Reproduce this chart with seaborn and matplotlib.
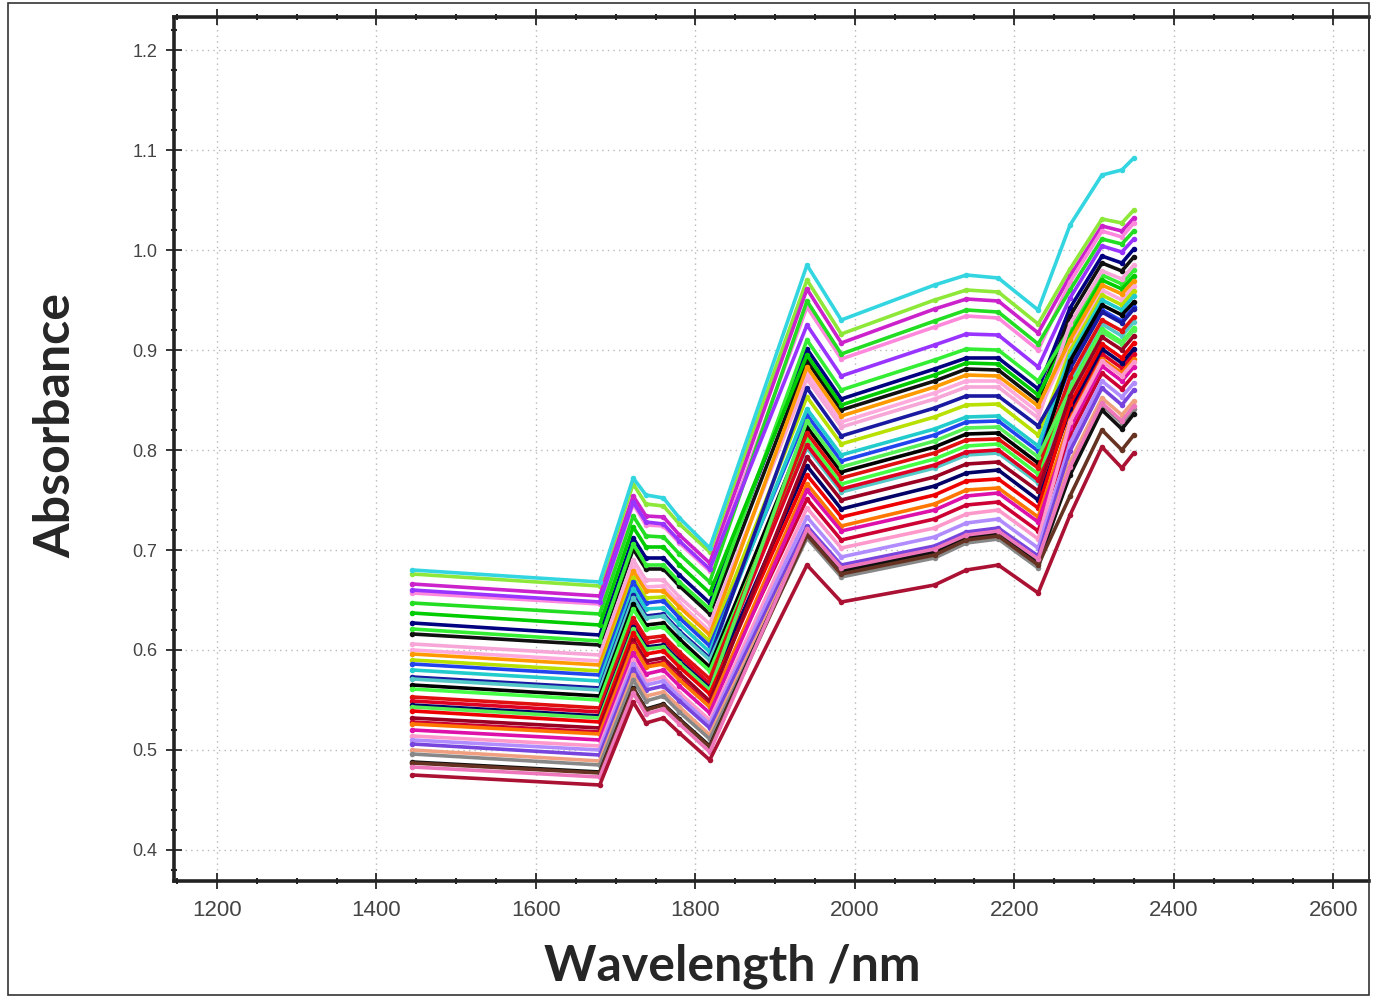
import numpy as np
import pandas as pd
import seaborn as sns
import matplotlib.pyplot as plt
from matplotlib.ticker import MultipleLocator, FormatStrFormatter
from matplotlib.patches import Rectangle

# wavelengths (nm) where every spectrum has a point
wavelength = [1445, 1680, 1722, 1738, 1760, 1780, 1818, 1940, 1983, 2100, 2140, 2180, 2230, 2270, 2310, 2335, 2350]

# absorbance spectra (top of the band first)
s_cyan    = [.680, .668, .772, .755, .752, .732, .702, .985, .930, .965, .975, .972, .940, 1.025, 1.075, 1.080, 1.092]
s_lime    = [.676, .664, .766, .746, .744, .726, .698, .970, .916, .950, .960, .958, .926, .981, 1.031, 1.027, 1.040]
s_magenta = [.666, .654, .754, .734, .733, .715, .687, .961, .907, .941, .951, .949, .917, .974, 1.024, 1.019, 1.032]
s_pink    = [.657, .646, .746, .725, .724, .707, .679, .943, .891, .923, .934, .932, .900, .968, 1.019, 1.013, 1.027]
s_green   = [.647, .636, .734, .714, .713, .696, .668, .949, .896, .929, .940, .938, .906, .960, 1.011, 1.006, 1.019]
s_violet  = [.660, .648, .748, .728, .726, .709, .681, .925, .874, .905, .916, .915, .883, .952, 1.004, .998, 1.011]
s_navy    = [.627, .615, .712, .692, .692, .675, .647, .901, .851, .881, .892, .892, .861, .942, .994, .987, 1.001]
s_black   = [.616, .605, .701, .681, .681, .664, .636, .889, .840, .869, .881, .880, .849, .934, .987, .979, .993]
s_green2  = [.621, .609, .706, .685, .685, .668, .641, .910, .860, .890, .901, .900, .869, .921, .975, .966, .980]
s_green3  = [.637, .625, .723, .703, .703, .685, .657, .895, .845, .875, .887, .886, .855, .915, .970, .961, .974]
s_pink2   = [.606, .595, .690, .670, .670, .653, .626, .871, .823, .851, .863, .863, .832, .926, .979, .971, .985]
s_pinkl   = [.600, .589, .683, .663, .664, .647, .619, .877, .828, .857, .869, .869, .838, .905, .960, .950, .964]
s_orange  = [.596, .585, .679, .659, .659, .643, .615, .883, .834, .863, .875, .874, .844, .910, .965, .956, .969]
s_ygreen  = [.590, .579, .672, .652, .653, .636, .609, .853, .806, .833, .845, .846, .815, .899, .955, .945, .959]
s_blue    = [.586, .575, .668, .647, .649, .632, .604, .835, .789, .815, .828, .829, .799, .883, .940, .929, .943]
s_cyan2   = [.580, .569, .661, .641, .642, .626, .598, .841, .795, .821, .833, .834, .804, .894, .950, .940, .954]
s_navy2   = [.573, .562, .655, .634, .636, .619, .592, .862, .814, .842, .854, .854, .824, .881, .938, .927, .941]
s_teal    = [.571, .560, .652, .632, .634, .617, .590, .802, .758, .782, .795, .797, .767, .868, .926, .914, .928]
s_black2  = [.565, .554, .646, .625, .627, .611, .583, .823, .778, .803, .816, .817, .787, .889, .945, .935, .948]
s_lime2   = [.561, .550, .641, .621, .623, .606, .579, .811, .766, .791, .804, .806, .776, .862, .921, .908, .922]
s_red     = [.553, .542, .632, .612, .614, .598, .571, .817, .772, .797, .810, .811, .782, .873, .930, .919, .933]
s_red3    = [.549, .538, .628, .607, .610, .594, .566, .805, .761, .785, .798, .800, .770, .836, .896, .882, .896]
s_navy3   = [.545, .534, .623, .603, .605, .589, .562, .784, .741, .764, .777, .780, .750, .841, .901, .887, .901]
s_lime3   = [.543, .532, .621, .601, .603, .587, .560, .829, .783, .809, .822, .823, .793, .860, .918, .906, .920]
s_red2    = [.539, .528, .617, .596, .599, .583, .556, .775, .733, .755, .769, .771, .742, .846, .906, .892, .907]
s_darkred = [.532, .522, .610, .589, .592, .577, .549, .793, .750, .773, .786, .788, .759, .854, .913, .900, .914]
s_crimson = [.528, .518, .606, .585, .588, .572, .545, .751, .710, .731, .745, .748, .719, .815, .877, .861, .875]
s_orange2 = [.526, .516, .604, .583, .586, .570, .543, .766, .724, .746, .760, .762, .733, .830, .891, .877, .891]
s_mag2    = [.520, .510, .597, .576, .580, .564, .537, .760, .719, .740, .754, .757, .728, .822, .884, .869, .883]
s_pink3   = [.514, .504, .590, .569, .573, .557, .530, .742, .702, .722, .736, .740, .711, .828, .889, .874, .888]
s_lavender= [.510, .500, .586, .565, .569, .553, .526, .733, .693, .713, .727, .731, .702, .807, .869, .853, .867]
s_violet2 = [.506, .495, .581, .560, .564, .549, .522, .724, .685, .704, .718, .722, .694, .799, .862, .845, .860]
s_salmon  = [.500, .489, .575, .554, .558, .543, .515, .718, .679, .698, .712, .717, .688, .788, .852, .835, .849]
s_gray    = [.496, .485, .570, .549, .554, .538, .511, .712, .673, .692, .707, .711, .682, .780, .845, .827, .841]
s_black3  = [.488, .478, .562, .541, .546, .531, .504, .718, .679, .698, .712, .717, .688, .775, .840, .821, .836]
s_brown   = [.487, .477, .561, .540, .545, .530, .503, .715, .676, .695, .710, .714, .685, .754, .820, .800, .815]
s_pink4   = [.483, .473, .557, .536, .541, .526, .498, .721, .682, .701, .715, .719, .691, .783, .847, .829, .844]
s_wine    = [.475, .465, .548, .527, .532, .517, .490, .685, .648, .665, .680, .685, .657, .735, .803, .782, .797]

spectra = [s_pinkl, s_lime, s_magenta, s_pink, s_green, s_violet, s_navy, s_black, s_green2, s_green3,
           s_pink2, s_orange, s_ygreen, s_blue, s_cyan2, s_navy2, s_teal, s_black2, s_lime2, s_red,
           s_red3, s_navy3, s_lime3, s_red2, s_darkred, s_crimson, s_orange2, s_mag2, s_pink3,
           s_lavender, s_violet2, s_salmon, s_gray, s_black3, s_brown, s_pink4, s_wine, s_cyan]
colors = ["#ffaadd", "#8ee83a", "#cc22cc", "#ff88dd", "#22dd22", "#9933ff", "#000080", "#111111", "#33ee33", "#00cc00",
          "#f7a6d8", "#ff9900", "#b8e000", "#2244ee", "#22cccc", "#1a1aa0", "#55c8c8", "#000000", "#44ff44", "#e01010",
          "#dd0022", "#000066", "#55f055", "#ee0000", "#990022", "#cc0033", "#ff7700", "#dd11aa", "#ff99cc",
          "#b08cff", "#7744dd", "#f0a080", "#888888", "#101010", "#663322", "#ee77bb", "#aa1133", "#33d6e0"]

rows = []
for i, spec in enumerate(spectra):
    for w, a in zip(wavelength, spec):
        rows.append((f"s{i:02d}", w, a))
df = pd.DataFrame(rows, columns=["sample", "wavelength", "absorbance"])
names = [f"s{i:02d}" for i in range(len(spectra))]

sns.set_style("ticks")
plt.rcParams["font.family"] = ["Liberation Sans", "DejaVu Sans"]

fig = plt.figure(figsize=(13.77, 9.98), dpi=100)
ax = fig.add_axes([174/1377, 117/998, 1195/1377, 864/998])

sns.lineplot(data=df, x="wavelength", y="absorbance", hue="sample", hue_order=names,
             palette=colors, estimator=None, sort=False, marker="o", markersize=4,
             markeredgewidth=0, linewidth=2.6, legend=False, ax=ax)

ax.set_xlim(1146, 2645)
ax.set_ylim(0.369, 1.233)
ax.xaxis.set_major_locator(MultipleLocator(200))
ax.xaxis.set_minor_locator(MultipleLocator(50))
ax.yaxis.set_major_locator(MultipleLocator(0.1))
ax.yaxis.set_minor_locator(MultipleLocator(0.02))
ax.yaxis.set_major_formatter(FormatStrFormatter("%.1f"))

ax.grid(True, which="major", color="#b8b8b8", linestyle=(0, (1, 3)), linewidth=1)
for side in ["left", "bottom", "top"]:
    ax.spines[side].set_linewidth(2.6)
    ax.spines[side].set_color("#222222")
ax.spines["right"].set_linewidth(1.2)
ax.spines["right"].set_color("#222222")

ax.tick_params(axis="x", which="major", direction="inout", length=12, width=1.3, top=True,
               labelsize=16, labelcolor="#444444", pad=8)
ax.tick_params(axis="x", which="minor", direction="inout", length=5, width=1.5, top=True)
ax.tick_params(axis="y", which="major", direction="inout", length=12, width=1.3,
               labelsize=13, labelcolor="#444444", pad=6)
ax.tick_params(axis="y", which="minor", direction="inout", length=5, width=1.5)

ax.set_xlabel("Wavelength /nm", fontsize=36, fontweight="bold", family=["Lato", "DejaVu Sans"])
ax.set_ylabel("Absorbance", fontsize=36, fontweight="bold", family=["Lato", "DejaVu Sans"])
ax.xaxis.set_label_coords(0.467, -0.072)
ax.yaxis.set_label_coords(-0.080, 0.527)

# thin frame around the whole picture
fig.patches.append(Rectangle((8/1377, 3/998), 1361/1377, 992/998, transform=fig.transFigure,
                             fill=False, edgecolor="#333333", linewidth=1.2))

fig.savefig("out.png", dpi=100)
